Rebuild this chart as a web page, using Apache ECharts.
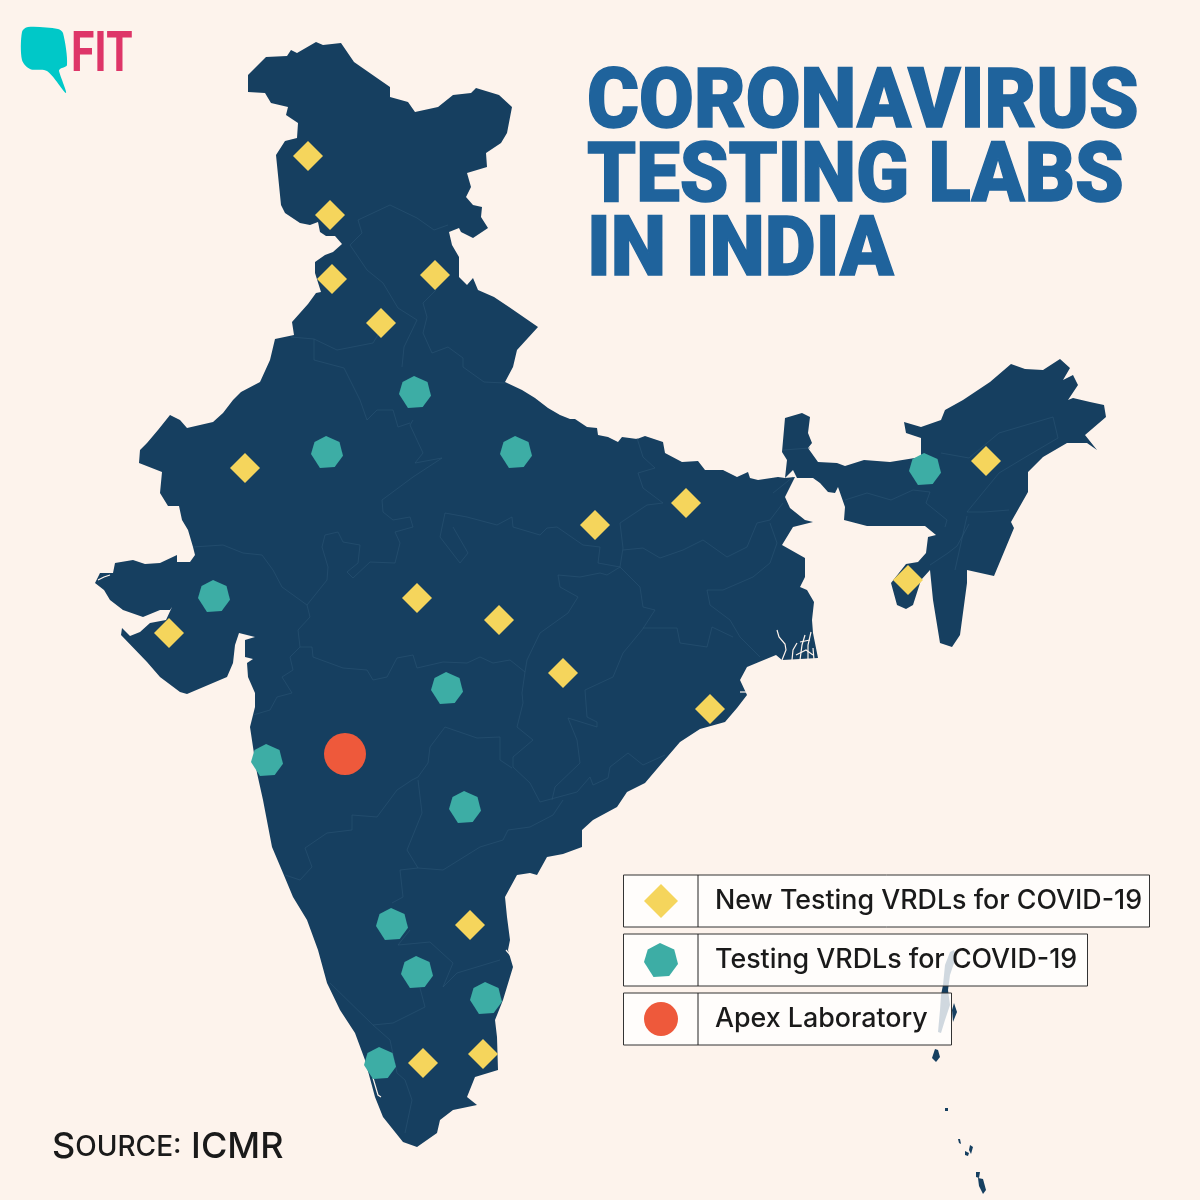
<!DOCTYPE html>
<html>
<head>
<meta charset="utf-8">
<title>Coronavirus testing labs in India</title>
<script src="https://cdn.jsdelivr.net/npm/echarts@6/dist/echarts.min.js"></script>
<style>
  html, body { margin: 0; padding: 0; background: #fdf3ec; }
  #chart { width: 1200px; height: 1200px; }
</style>
</head>
<body>
<div id="chart"></div>
<script>
const mainland = [
  [248,75],[266,57],[287,56],[291,50],[297,53],[316,42],[323,45],[341,43],[354,62],[377,78],[390,87],[390,97],[408,102],[415,112],[438,107],[453,95],[471,93],[476,88],[499,95],[512,107],
  [507,133],[501,143],[486,153],[487,167],[467,173],[471,187],[466,197],[473,205],[482,207],[481,217],[488,228],[473,238],[461,232],[459,228],[449,232],[452,245],[459,257],[459,277],[467,285],[473,278],[478,290],[494,297],[509,307],[538,327],
  [517,350],[513,367],[505,382],[522,390],[535,398],[548,408],[560,415],[570,419],[575,419],[587,427],[597,428],[598,435],[608,437],[618,442],[622,437],[637,439],[645,436],[663,442],[665,453],[682,462],[698,461],[705,470],[723,470],[737,477],[748,472],[750,478],[758,480],[778,477],[785,478],
  [787,460],[782,452],[785,418],[802,413],[810,417],[808,433],[812,443],[808,448],[818,462],[837,463],[845,466],[864,460],[890,462],[921,457],[921,438],[906,433],[904,422],[921,427],[941,420],[945,410],[963,400],[990,382],[1011,364],[1025,369],[1043,370],[1060,359],[1070,368],[1063,380],[1073,375],[1078,385],[1068,400],[1073,398],[1090,402],[1104,405],[1106,417],[1085,435],[1097,450],[1087,443],[1067,443],[1043,457],[1028,472],[1028,492],[1011,522],[1014,528],[994,576],[967,570],[967,583],[960,635],[952,647],[940,643],[933,600],[930,570],[921,580],[913,605],[906,609],[897,605],[891,583],[906,564],[918,562],[926,553],[928,537],[936,535],[925,526],[867,526],[844,520],[845,507],[838,487],[835,493],[828,492],[820,483],[813,478],[797,478],[793,470],[785,478],
  [795,477],[785,497],[790,508],[805,520],[813,522],[793,527],[782,545],[805,558],[805,577],[800,587],[807,590],[814,602],[812,620],[813,633],[818,658],[782,660],
  [776,655],[759,662],[747,667],[740,680],[747,695],[737,708],[725,722],[700,729],[680,742],[662,763],[645,783],[627,792],[617,807],[593,820],[582,830],[582,847],[563,854],[547,857],[537,875],[530,873],[517,875],[505,897],[507,917],[510,940],[508,950],[513,967],[503,1000],[495,1020],[497,1037],[498,1070],[475,1077],[467,1097],[477,1105],[453,1110],[440,1120],[437,1133],[417,1147],[403,1142],[383,1117],[375,1097],[365,1060],[355,1033],[340,1010],[327,983],[318,950],[307,920],[293,897],[283,873],[272,847],[263,800],[257,773],[253,747],[250,727],[255,707],[255,693],[248,677],[247,663],[253,659],[245,657],[245,640],[255,637],[239,633],[235,645],[233,663],[227,677],[187,694],[180,692],[160,677],[147,662],[121,635],[122,628],[130,636],[140,632],[150,623],[166,620],[172,607],[170,610],[160,610],[143,617],[123,610],[110,600],[104,590],[95,583],[100,573],[113,573],[115,563],[133,560],[145,564],[160,563],[177,555],[177,562],[190,562],[195,555],[193,547],[188,530],[182,520],[179,506],[168,506],[160,493],[162,472],[139,463],[140,450],[147,443],[158,430],[170,415],[180,420],[187,428],[213,422],[223,413],[233,400],[241,392],[260,382],[270,360],[275,339],[294,335],[292,322],[308,304],[316,293],[321,292],[315,273],[315,262],[325,255],[333,252],[342,244],[335,236],[326,236],[320,232],[318,222],[310,225],[300,223],[285,213],[281,205],[278,175],[276,155],[285,141],[297,138],[298,123],[286,115],[288,107],[271,103],[265,93],[248,92]
];
const islands = [
  [[954,950],[956,957],[950,975],[948,990],[950,1005],[945,1020],[941,1033],[938,1032],[940,1010],[941,995],[943,985],[945,965],[950,952]],
  [[954,1003],[957,1012],[953,1022],[952,1010]],
  [[935,1049],[938,1050],[940,1057],[936,1062],[932,1058]],
  [[945,1108],[948,1108],[948,1111],[945,1111]],
  [[958,1139],[960,1139],[961,1144],[959,1143]],
  [[970,1145],[973,1147],[971,1154],[969,1150]],
  [[965,1151],[969,1153],[968,1156],[965,1155]],
  [[976,1172],[980,1172],[979,1178],[976,1177]],
  [[978,1178],[983,1179],[986,1190],[983,1194],[979,1186]]
];
const waterChannels = [
  [[782,660],[786,650],[785,644],[779,637],[777,630]],
  [[792,660],[793,650],[797,643]],
  [[800,660],[802,645],[805,635]],
  [[808,660],[808,645],[811,632]],
  [[814,660],[813,648]],
  [[796,655],[806,650],[813,655]],
  [[800,642],[810,640]],
  [[373,1078],[378,1095],[381,1097]],
  [[506,950],[512,957]],
  [[740,692],[747,692]],
  [[98,580],[104,577],[110,575]]
];
const stateBorders = [
  [[193,547],[223,545],[243,553],[262,555],[273,570],[282,587],[307,605],[310,617],[298,630],[300,647],[290,657],[293,670],[282,677],[292,693],[277,697],[270,710],[253,715]],
  [[307,605],[327,580],[328,567],[322,547],[325,535],[338,532],[343,542],[360,545],[358,563],[347,572],[353,578],[370,562],[395,563],[400,543],[395,532],[413,527],[410,517],[393,520],[383,512],[382,500],[413,477],[442,458],[415,463],[423,453],[410,425],[413,420]],
  [[300,647],[312,647],[313,657],[343,668],[367,670],[373,680],[387,677],[397,658],[413,655],[417,668],[443,662],[467,663],[480,657],[493,663],[510,660],[525,672]],
  [[525,672],[527,660],[540,633],[568,613],[578,597],[560,587],[558,575],[580,577],[600,573],[607,575],[620,567],[598,563],[600,547],[583,545],[557,527],[547,528],[540,535],[513,527],[512,517],[497,525],[467,517],[445,513],[440,537],[460,563],[468,553],[453,527]],
  [[620,567],[640,587],[643,607],[655,610],[642,630],[623,653],[613,677],[585,690],[587,717],[597,722],[597,727],[568,718],[577,740],[580,763],[555,787],[552,800]],
  [[525,672],[522,693],[523,703],[517,727],[533,740],[513,757],[513,767],[530,783],[540,802],[577,792],[590,777],[593,785],[608,778],[610,767],[628,753],[643,765],[665,755]],
  [[563,800],[553,815],[530,827],[508,830],[503,840],[480,847],[443,870],[418,868],[407,850],[422,813],[418,780]],
  [[445,727],[477,738],[500,737],[500,760],[512,768]],
  [[445,727],[430,747],[428,763],[418,777],[412,780],[397,790],[377,817],[352,815],[352,830],[327,833],[305,848],[312,867],[300,880],[285,875]],
  [[418,868],[400,870],[403,897],[392,903]],
  [[410,930],[398,945],[430,942],[453,963],[443,987],[457,973],[500,960]],
  [[420,988],[425,1007],[393,1023],[373,1025],[330,983]],
  [[373,1025],[390,1040],[397,1073],[405,1080],[412,1100],[405,1133]],
  [[358,220],[390,205],[417,218],[434,230],[448,225]],
  [[358,220],[362,233],[350,245],[367,270],[383,283],[398,308],[417,320],[404,347],[402,367]],
  [[436,290],[423,303],[427,317],[423,333],[432,353],[448,347],[463,358],[463,367],[484,382],[505,383]],
  [[291,337],[314,339],[314,360],[344,368],[360,400],[367,420],[377,410],[393,410],[398,427],[410,423]],
  [[314,339],[337,350],[373,343],[381,330]],
  [[637,438],[643,457],[655,468],[638,473],[643,488],[663,503],[647,505],[620,523],[623,548],[620,567]],
  [[623,550],[643,548],[660,558],[683,550],[703,540],[727,557],[747,547],[757,523],[770,520],[783,503]],
  [[770,523],[777,543],[770,563],[753,577],[723,590],[707,590],[710,605],[730,620],[740,637],[760,657]],
  [[643,628],[677,628],[680,643],[707,647],[712,627],[733,637]],
  [[773,493],[793,477]],
  [[783,450],[810,448]],
  [[845,500],[867,493],[891,500],[913,490],[930,492],[926,503],[947,520],[945,527]],
  [[941,453],[969,458],[999,433],[1053,417],[1058,438],[1029,455],[999,473],[985,490],[967,512],[984,512],[1009,510]],
  [[967,516],[955,570]],
  [[930,565],[948,553],[957,546],[969,524]]
];
const newTesting = [[308,156],[330,215],[332,279],[435,275],[381,323],[245,468],[595,525],[686,503],[417,598],[499,620],[563,673],[710,709],[986,461],[908,580],[169,633],[470,925],[423,1063],[483,1054]];
const existingTesting = [[415,392],[327,452],[516,452],[925,469],[214,596],[447,688],[267,760],[465,807],[392,924],[417,972],[486,998],[380,1063]];
const apexLab = [[345,754]];
const seriesNames = ['New Testing VRDLs for COVID-19', 'Testing VRDLs for COVID-19', 'Apex Laboratory'];
const titleLines = ['CORONAVIRUS', 'TESTING LABS', 'IN INDIA'];

const NAVY = '#163f60';
const BG = '#fdf3ec';
const heptagon = 'path://M47 0L89 19L100 62L74 97L28 100L0 56L11 19Z';

const chart = echarts.init(document.getElementById('chart'));

function shapeSeries(list, kind, style, z) {
  return {
    type: 'custom',
    coordinateSystem: 'cartesian2d',
    silent: true,
    z: z,
    data: list.map((_, i) => [i]),
    renderItem: function (params, api) {
      return {
        type: kind,
        shape: { points: list[params.dataIndex].map(p => api.coord(p)) },
        style: style
      };
    }
  };
}

function boxRect(x, y, w) {
  return [
    { type: 'rect', z: 3, shape: { x: x, y: y, width: w, height: 52 },
      style: { fill: 'rgba(255,255,255,0.8)', stroke: '#333', lineWidth: 1 } },
    { type: 'line', z: 3, shape: { x1: 698, y1: y, x2: 698, y2: y + 52 },
      style: { stroke: '#222', lineWidth: 1 } }
  ];
}

function titleText(line, y, sx) {
  return { type: 'text', z: 3, x: 587, y: y, scaleX: sx,
    style: { text: line, fill: '#1f639c', stroke: '#1f639c', lineWidth: 1.5, font: '900 84px Roboto', textVerticalAlign: 'middle' } };
}

chart.setOption({
  animation: false,
  backgroundColor: BG,
  grid: { left: 0, right: 0, top: 0, bottom: 0 },
  xAxis: { type: 'value', min: 0, max: 1200, show: false },
  yAxis: { type: 'value', min: 0, max: 1200, inverse: true, show: false },
  legend: {
    left: 644, top: 884, padding: 0, orient: 'vertical', itemWidth: 34, itemHeight: 34, itemGap: 25, z: 5,
    selectedMode: false,
    textStyle: { fontFamily: 'Inter', fontWeight: 500, fontSize: 26.8, color: '#1a1a1a', padding: [0, 0, 0, 32] },
    data: [
      { name: seriesNames[0], icon: 'diamond' },
      { name: seriesNames[1], icon: heptagon },
      { name: seriesNames[2], icon: 'circle' }
    ]
  },
  graphic: [
    ...boxRect(623.5, 875, 526),
    ...boxRect(623.5, 934, 464),
    ...boxRect(623.5, 993, 328),
    titleText(titleLines[0], 106, 0.945),
    titleText(titleLines[1], 180, 0.928),
    titleText(titleLines[2], 254, 0.937),
    { type: 'polygon', z: 3,
      shape: { smooth: 0.3, points: [[28,27],[58,29],[63,33],[67,65],[60,69],[59,71],[66,93],[47,71],[30,69],[22,60],[22,32]] },
      style: { fill: '#00c8c8' } },
    { type: 'text', z: 3, x: 71, y: 57, scaleX: 0.76, style: { text: 'FIT', fill: '#de3568', font: '700 56px Roboto', textVerticalAlign: 'middle' } },
    { type: 'text', z: 3, left: 52, top: 1129,
      style: {
        rich: {
          big: { font: '500 36px Inter', fill: '#1a1a1a', lineHeight: 36, verticalAlign: 'bottom' },
          small: { font: '500 28px Inter', fill: '#1a1a1a', lineHeight: 28, verticalAlign: 'bottom', padding: [0, 0, 3, 0] }
        },
        text: '{big|S}{small|OURCE:}{big| ICMR}'
      } }
  ],
  series: [
    shapeSeries([mainland], 'polygon', { fill: NAVY }, 1),
    shapeSeries(islands, 'polygon', { fill: NAVY }, 1),
    shapeSeries(stateBorders, 'polyline', { fill: 'none', stroke: '#2a5474', lineWidth: 0.6 }, 1),
    shapeSeries(waterChannels, 'polyline', { fill: 'none', stroke: BG, lineWidth: 1.2 }, 1),
    { name: seriesNames[0], type: 'scatter', symbol: 'diamond', symbolSize: 30, z: 2, silent: true,
      itemStyle: { color: '#f5d55c', opacity: 1 }, data: newTesting },
    { name: seriesNames[1], type: 'scatter', symbol: heptagon, symbolSize: 32, z: 2, silent: true,
      itemStyle: { color: '#3dada5', opacity: 1 }, data: existingTesting },
    { name: seriesNames[2], type: 'scatter', symbol: 'circle', symbolSize: 42, z: 2, silent: true,
      itemStyle: { color: '#ee593b', opacity: 1 }, data: apexLab }
  ]
});
</script>
</body>
</html>
